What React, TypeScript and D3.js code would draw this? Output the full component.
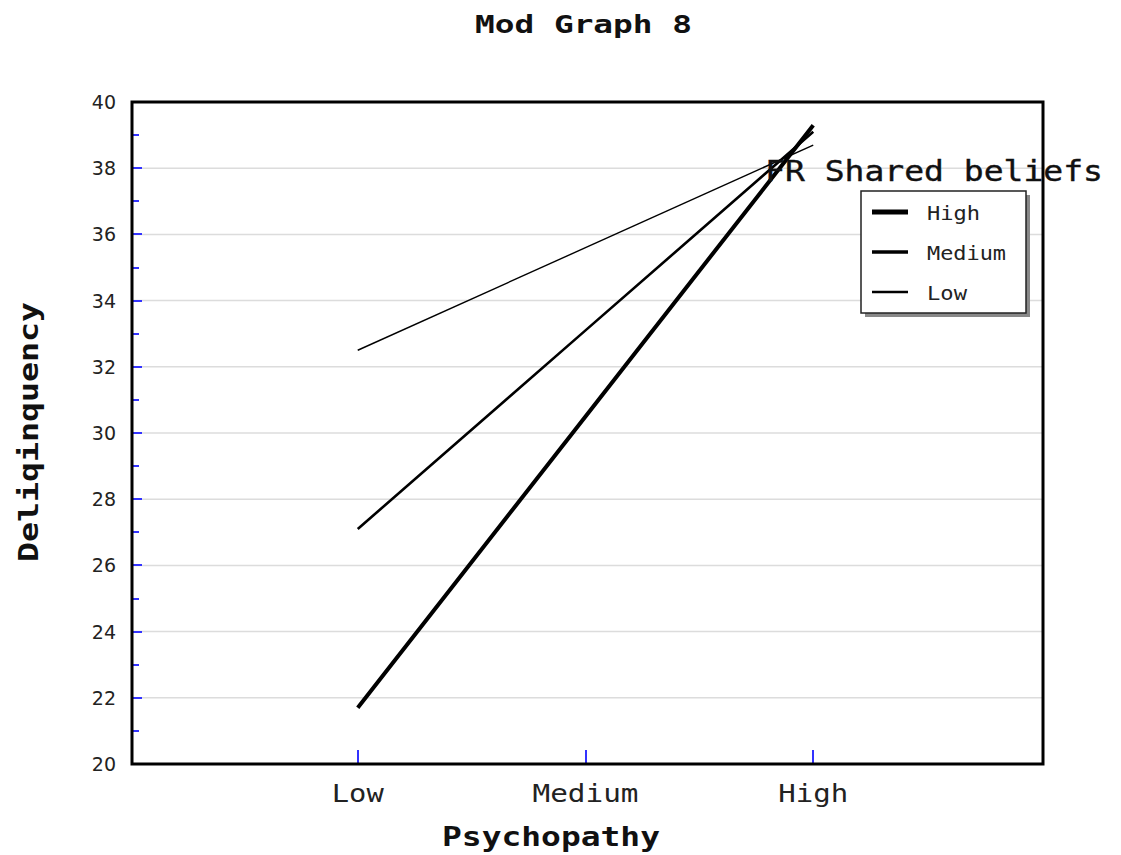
import React from "react";
import * as d3 from "d3";

const categories = ["Low", "Medium", "High"];
const seriesNames = ["High", "Medium", "Low"];
const seriesHigh = [21.7, 30.5, 39.3];
const seriesMedium = [27.1, 33.1, 39.1];
const seriesLow = [32.5, 35.6, 38.7];
const yTicks = [20, 22, 24, 26, 28, 30, 32, 34, 36, 38, 40];
const yMinor = [21, 23, 25, 27, 29, 31, 33, 35, 37, 39];
const strokeWidths = [4, 2.6, 1.4];

const W = 1121, H = 855;
const left = 132, right = 1043, top = 102, bottom = 764;
const MONO = "'DejaVu Sans Mono', 'Liberation Mono', monospace";
const catLen: Record<string, number> = { Low: 52, Medium: 106, High: 70 };
const legLen: Record<string, number> = { High: 53, Medium: 79, Low: 40 };

export default function App() {
  const x = d3.scaleLinear().domain([0, 4]).range([left, right]);
  const xPos = (i: number) => x(i + 1) - 2;
  const y = d3.scaleLinear().domain([20, 40]).range([bottom, top]);
  const allSeries = [seriesHigh, seriesMedium, seriesLow];
  const line = d3.line<number>().x((_, i) => xPos(i)).y((v) => y(v));
  return (
    <svg width={W} height={H} style={{ display: "block", position: "absolute", left: 0, top: 0 }}>
      <rect width={W} height={H} fill="#fff" />
      <text x={475} y={33} fontFamily={MONO} fontSize={25} fontWeight="bold" fill="#111" textLength={217} lengthAdjust="spacingAndGlyphs">Mod Graph 8</text>
      {yTicks.map((t) => (
        <line key={"g" + t} x1={left} x2={right} y1={y(t)} y2={y(t)} stroke="#dcdcdc" strokeWidth={1.5} />
      ))}
      {yTicks.map((t) => (
        <g key={"t" + t}>
          <line x1={left} x2={left + 10} y1={y(t)} y2={y(t)} stroke="#3333ff" strokeWidth={2} shapeRendering="crispEdges" />
          <text x={116} y={y(t) + 7} textAnchor="end" fontFamily="'DejaVu Sans', sans-serif" fontSize={19} fill="#222">{t}</text>
        </g>
      ))}
      {yMinor.map((t) => (
        <line key={"m" + t} x1={left} x2={left + 7} y1={y(t)} y2={y(t)} stroke="#3333ff" strokeWidth={2} shapeRendering="crispEdges" />
      ))}
      {categories.map((c, i) => (
        <g key={c}>
          <line x1={xPos(i)} x2={xPos(i)} y1={bottom} y2={bottom - 14} stroke="#3333ff" strokeWidth={2} shapeRendering="crispEdges" />
          <text x={xPos(i) - catLen[c] / 2} y={802} fontFamily={MONO} fontSize={25} fill="#222" textLength={catLen[c]} lengthAdjust="spacingAndGlyphs">{c}</text>
        </g>
      ))}
      {allSeries.map((s, k) => (
        <path key={"s" + k} d={line(s) || ""} fill="none" stroke="#000" strokeWidth={strokeWidths[k]} />
      ))}
      <rect x={left} y={top} width={right - left} height={bottom - top} fill="none" stroke="#000" strokeWidth={3} />
      <text x={442} y={846} fontFamily={MONO} fontSize={27} fontWeight="bold" fill="#111" textLength={218} lengthAdjust="spacingAndGlyphs">Psychopathy</text>
      <text transform={`translate(38,562) rotate(-90)`} fontFamily={MONO} fontSize={27} fontWeight="bold" fill="#111" textLength={260} lengthAdjust="spacingAndGlyphs">Deliqinquency</text>
      <text x={765} y={181} fontFamily={MONO} fontSize={29} fill="#111" stroke="#111" strokeWidth={0.4} textLength={338} lengthAdjust="spacingAndGlyphs">FR Shared beliefs</text>
      <rect x={865} y={195} width={165} height={122} fill="#888" />
      <rect x={861} y={191} width={165} height={122} fill="#fff" stroke="#222" strokeWidth={1.5} />
      {seriesNames.map((n, k) => (
        <g key={"l" + n}>
          <line x1={872} x2={908} y1={212 + k * 40} y2={212 + k * 40} stroke="#000" strokeWidth={strokeWidths[k] + 1} />
          <text x={927} y={220 + k * 40} fontFamily={MONO} fontSize={20} fill="#222" textLength={legLen[n]} lengthAdjust="spacingAndGlyphs">{n}</text>
        </g>
      ))}
    </svg>
  );
}
